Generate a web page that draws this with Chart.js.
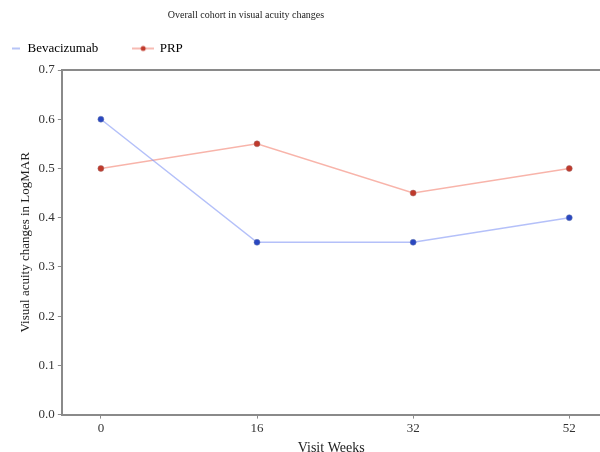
<!DOCTYPE html>
<html>
<head>
<meta charset="utf-8">
<script src="https://cdn.jsdelivr.net/npm/chart.js@4.4.0/dist/chart.umd.min.js"></script>
<style>
  html, body { margin: 0; padding: 0; background: #fff; overflow: hidden; }
</style>
</head>
<body>
<canvas id="acuity" width="605" height="452"></canvas>
<script>
// visit weeks on x, LogMAR change on y
const weeks = ['0', '16', '32', '52'];
const bevacizumab = [0.6, 0.35, 0.35, 0.4];
const prp = [0.5, 0.55, 0.45, 0.5];
const yTicks = [0, 0.1, 0.2, 0.3, 0.4, 0.5, 0.6, 0.7];

const serif = "'Liberation Serif', 'DejaVu Serif', serif";
const axisGray = '#8a8a8a';
const bevLine = 'rgba(130,150,245,0.6)';
const prpLine = 'rgba(245,140,125,0.65)';

// legend markers: short blue dash, red line with a dot
const bevMark = document.createElement('canvas');
bevMark.width = 20; bevMark.height = 10;
(function(){
  const c = bevMark.getContext('2d');
  c.strokeStyle = '#9fb0f5'; c.lineWidth = 1.5;
  c.beginPath(); c.moveTo(11, 5); c.lineTo(19, 5); c.stroke();
})();
const prpMark = document.createElement('canvas');
prpMark.width = 22; prpMark.height = 10;
(function(){
  const c = prpMark.getContext('2d');
  c.strokeStyle = '#f4a49a'; c.lineWidth = 1.5;
  c.beginPath(); c.moveTo(0, 5); c.lineTo(22, 5); c.stroke();
  c.fillStyle = '#c0392b';
  c.beginPath(); c.arc(11, 5, 2.5, 0, Math.PI * 2); c.fill();
})();
const legendMarks = [bevMark, prpMark];

// x positions are the visit index, labelled with the week
const toPoints = arr => arr.map((v, i) => ({ x: i, y: v }));

const ctx = document.querySelector('#acuity');

const data = {
  datasets: [{
    label: 'Bevacizumab',
    data: toPoints(bevacizumab),
    borderColor: bevLine,
    borderWidth: 1.5,
    pointBackgroundColor: '#2a47c0',
    pointBorderColor: '#7080b0',
    pointBorderWidth: 0.5,
    pointRadius: 3
  }, {
    label: 'PRP',
    data: toPoints(prp),
    borderColor: prpLine,
    borderWidth: 1.5,
    pointBackgroundColor: '#c0392b',
    pointBorderColor: '#a07070',
    pointBorderWidth: 0.5,
    pointRadius: 3
  }]
};

const config = {
  type: 'line',
  data: data,
  options: {
    responsive: false,
    animation: false,
    layout: { padding: { left: -9, right: 0, top: 0, bottom: -5 } },
    plugins: {
      title: {
        display: true,
        text: 'Overall cohort in visual acuity changes',
        color: '#222',
        font: { family: serif, size: 10, weight: 'normal' },
        padding: { top: 9, bottom: 11 }
      },
      legend: {
        display: true,
        align: 'start',
        labels: {
          color: '#222',
          font: { family: serif, size: 13 },
          usePointStyle: true,
          pointStyleWidth: 20,
          padding: 10,
          generateLabels: function(chart){
            return chart.data.datasets.map(function(ds, i){
              return {
                // trailing spaces keep the gap between the two entries
                text: i === 0 ? ds.label + '\u2003\u2002\u2004\u200A' : ds.label,
                pointStyle: legendMarks[i],
                fillStyle: ds.pointBackgroundColor,
                strokeStyle: ds.borderColor,
                lineWidth: 0,
                datasetIndex: i
              };
            });
          }
        }
      },
      tooltip: { enabled: false }
    },
    scales: {
      x: {
        type: 'linear',
        min: -0.25,
        max: 3.2,
        afterBuildTicks: function(axis){ axis.ticks = weeks.map((w, i) => ({ value: i })); },
        grid: { drawOnChartArea: false, tickLength: 4, color: axisGray },
        border: { color: axisGray, width: 2 },
        ticks: {
          color: '#333',
          font: { family: serif, size: 13 },
          padding: 2,
          maxRotation: 0,
          callback: v => weeks[v]
        },
        title: { display: true, text: 'Visit Weeks', color: '#222', font: { family: serif, size: 14 }, padding: { top: 2, bottom: 0 } }
      },
      y: {
        min: 0,
        max: 0.7,
        afterBuildTicks: function(axis){ axis.ticks = yTicks.map(v => ({ value: v })); },
        grid: { drawOnChartArea: false, tickLength: 4, color: axisGray },
        border: { color: axisGray, width: 2 },
        ticks: {
          color: '#333',
          font: { family: serif, size: 13 },
          padding: 3,
          callback: v => Number(v).toFixed(1)
        },
        title: {
          display: true,
          text: 'Visual acuity changes in LogMAR',
          color: '#222',
          font: { family: serif, size: 13 },
          padding: { top: 27, bottom: 2 }
        }
      }
    }
  },
  plugins: [{
    // a bit more room under the legend
    id: 'legendGap',
    beforeLayout: function(chart){
      const lg = chart.legend;
      if (lg && !lg._gap) {
        const fit = lg.fit;
        lg.fit = function(){ fit.call(this); this.height += 5; };
        lg._gap = true;
      }
    }
  }, {
    // title sits left of the page centre in the original
    id: 'titleShift',
    afterLayout: function(chart){
      const t = chart.titleBlock;
      if (t) { t.left -= 52; t.right -= 52; }
    }
  }, {
    id: 'topBorder',
    afterDraw: function(chart){
      const a = chart.chartArea, c = chart.ctx;
      c.save();
      c.strokeStyle = axisGray; c.lineWidth = 2;
      c.beginPath(); c.moveTo(a.left, a.top); c.lineTo(a.right, a.top); c.stroke();
      c.restore();
    }
  }]
};

new Chart(ctx, config);
</script>
</body>
</html>
